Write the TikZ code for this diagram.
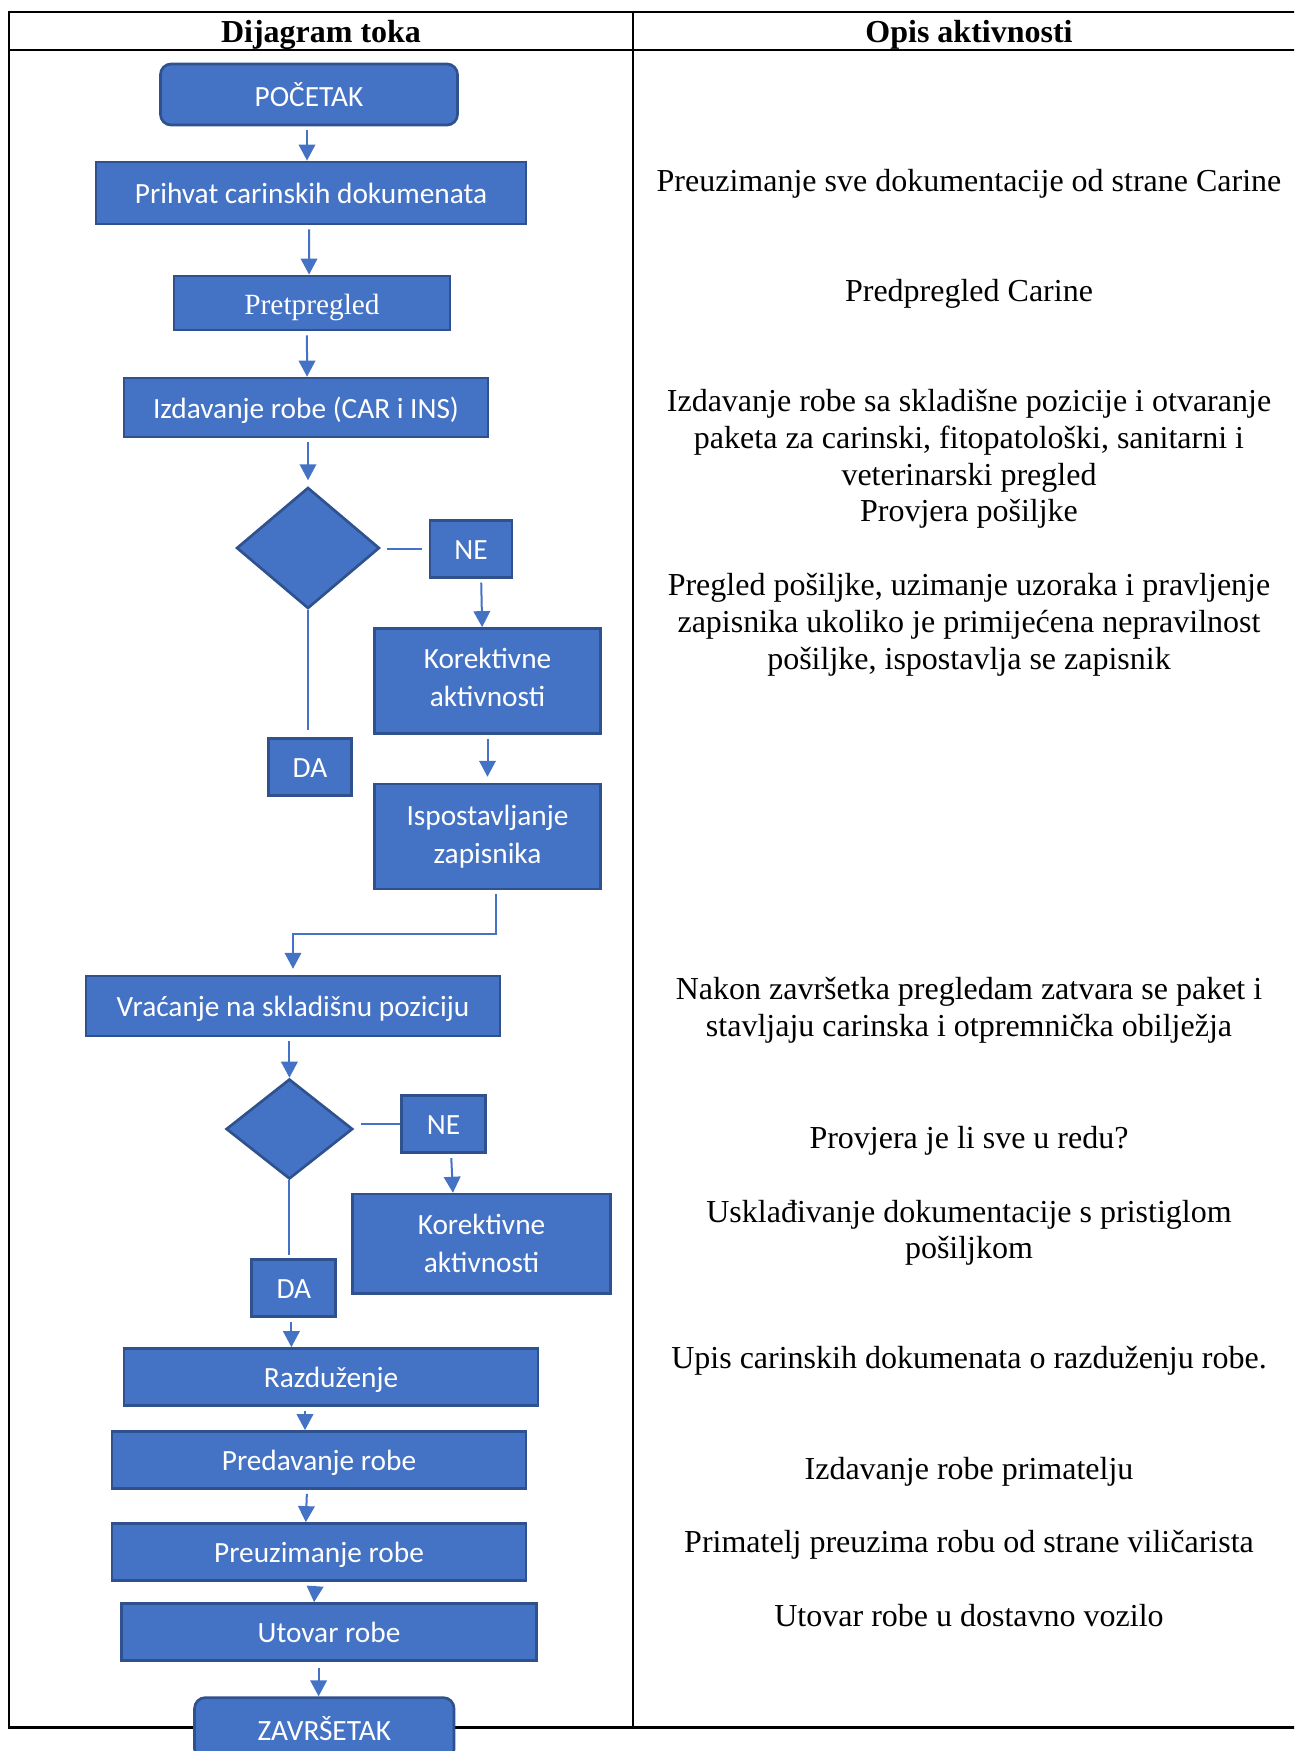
\documentclass[tikz,border=0pt]{standalone}
\usepackage{fontspec}
\setmainfont{Liberation Serif}
\newfontfamily\calfont{Carlito}
\usetikzlibrary{shapes.geometric}
\usetikzlibrary{positioning}
\usetikzlibrary{arrows.meta}
\definecolor{ofblue}{HTML}{4472C4}
\definecolor{ofdark}{HTML}{2F528F}
\tikzset{
    procbase/.style = {rectangle, draw=ofdark, line width=1pt, fill=ofblue, text=white, align=center, inner sep=0pt, font=\calfont\fontsize{11}{14.25}\selectfont},
    procbox/.style = {procbase, text height=10pt, text depth=2pt},
    procboxm/.style = {procbase},
    procboxs/.style = {procbase, font=\rmfamily\fontsize{11}{14.25}\selectfont, text height=11pt, text depth=2pt},
    termbox/.style = {procbase, rounded corners=4pt},
    decbox/.style = {diamond, draw=ofdark, line width=1pt, fill=ofblue, inner sep=0pt},
    edgea/.style = {-{Triangle[width=6.2pt,length=6pt]}, line width=0.75pt, draw=ofblue, shorten <=1.5pt},
    edgel/.style = {line width=0.75pt, draw=ofblue},
    tabline/.style = {line width=0.8pt, draw=black},
    opis/.style = {align=center, inner sep=0pt, font=\fontsize{12}{13.8}\selectfont},
    naslov/.style = {inner sep=0pt, font=\bfseries\fontsize{12}{13.8}\selectfont}
}

\begin{document}
\begin{tikzpicture}[x=0.375pt, y=-0.375pt]
\clip (0,0) rectangle (1294,1751);
% table
\draw[tabline] (9,12) rectangle (1310,1727.5);
\draw[tabline] (9,50) -- (1310,50);
\draw[tabline] (633,12) -- (633,1727.5);
\node[naslov] at (321, 34.5) (h1) {Dijagram toka};
\node[naslov] at (969, 34.5) (h2) {Opis aktivnosti};
%
\node[termbox, minimum width=111.4pt, minimum height=22.9pt] at (309, 94.5) (pocetak) {POČETAK};
\node[procbox, minimum width=161.3pt, minimum height=23.3pt] at (311, 193) (prihvat) {Prihvat carinskih dokumenata};
\node[procboxs, minimum width=103.5pt, minimum height=20.3pt] at (312, 303) (pret) {Pretpregled};
\node[procbox, minimum width=136.5pt, minimum height=22.1pt] at (306, 407.5) (izd) {Izdavanje robe (CAR i INS)};
\node[decbox, minimum width=53.6pt, minimum height=45.4pt] at (308, 548) (dia1) {};
\node[procbox, minimum width=30.8pt, minimum height=21.4pt] at (471, 548.7) (ne1) {NE};
\node[procboxm, text depth=2.5pt, minimum width=84.8pt, minimum height=39.4pt] at (487.5, 681) (kor1) {Korektivne\\aktivnosti};
\node[procboxm, minimum width=84.8pt, minimum height=39.4pt] at (487.5, 836.5) (isp) {Ispostavljanje\\zapisnika};
\node[procbox, minimum width=31.3pt, minimum height=21.4pt] at (310, 767) (da1) {DA};
\node[procbox, minimum width=155.3pt, minimum height=22.5pt] at (293, 1006) (vracanje) {Vraćanje na skladišnu poziciju};
\node[decbox, minimum width=47.5pt, minimum height=37.5pt] at (289.4, 1129) (dia2) {};
\node[procbox, minimum width=31.5pt, minimum height=21.4pt] at (443.6, 1124.2) (ne2) {NE};
\node[procboxm, minimum width=96.6pt, minimum height=37.2pt] at (481.5, 1243.7) (kor2) {Korektivne\\aktivnosti};
\node[procbox, minimum width=31.5pt, minimum height=21.4pt] at (293.8, 1288) (da2) {DA};
\node[procbox, minimum width=155.3pt, minimum height=21.4pt] at (331, 1377) (raz) {Razduženje};
\node[procbox, minimum width=155.3pt, minimum height=21.4pt] at (319, 1460) (pred) {Predavanje robe};
\node[procbox, minimum width=155.3pt, minimum height=21.4pt] at (319, 1552) (preuz) {Preuzimanje robe};
\node[procbox, minimum width=155.4pt, minimum height=21.4pt] at (329, 1632) (utovar) {Utovar robe};
\node[termbox, minimum width=97.3pt, minimum height=23.3pt] at (324.3, 1728.7) (zav) {ZAVRŠETAK};
%
\draw[edgea] ([xshift=-0.75pt]pocetak.south) -- ([xshift=-1.5pt]prihvat.north);
\draw[edgea] ([xshift=-0.75pt]prihvat.south) -- ([xshift=-1.1pt]pret.north);
\draw[edgea] ([xshift=-1.9pt]pret.south) -- ([xshift=0.4pt]izd.north);
\draw[edgea, shorten >=2.2pt] (izd.south -| dia1.north) -- (dia1.north);
\draw[edgel, shorten <=2.4pt, shorten >=2.6pt] (dia1.east |- ne1.west) -- (ne1.west);
\draw[edgea] ([xshift=3.8pt]ne1.south) -- ([xshift=-2pt]kor1.north);
\draw[edgea, shorten >=2.2pt] (kor1) -- (isp);
\draw[edgel, shorten >=2.8pt] (dia1.south) -- (dia1.south |- da1.north);
\draw[edgea, shorten >=2.2pt] ([xshift=3.2pt]isp.south) -- ++(0,43.7) -| (vracanje.north);
\draw[edgea] (vracanje.south -| dia2.north) -- (dia2.north);
\draw[edgel, shorten <=2.5pt] (dia2.east |- ne2.west) -- (ne2.west);
\draw[edgea] ([xshift=2.8pt]ne2.south) -- ([xshift=-10.7pt]kor2.north);
\draw[edgel, shorten >=1pt] (dia2.south) -- (dia2.south |- da2.north);
\draw[edgea] ([xshift=-0.9pt]da2.south) -- ([xshift=-0.9pt]da2.south |- raz.north);
\draw[edgea] ([xshift=-9.75pt]raz.south) -- ([xshift=-5.25pt]pred.north);
\draw[edgea] ([xshift=-4.5pt]pred.south) -- ([xshift=-4.95pt]preuz.north);
\draw[edgea] ([xshift=-1.35pt]preuz.south) -- ([xshift=-5.6pt]utovar.north);
\draw[edgea, shorten <=2.2pt] ([xshift=-3.9pt]utovar.south) -- ([xshift=-3.9pt]utovar.south |- zav.north);
%
\node[opis] at (969, 184.3) (o1) {Preuzimanje sve dokumentacije od strane Carine};
\node[opis] at (969, 294) (o2) {Predpregled Carine};
\node[opis] at (969, 459) (o3) {Izdavanje robe sa skladišne pozicije i otvaranje\\paketa za carinski, fitopatološki, sanitarni i\\veterinarski pregled\\Provjera pošiljke};
\node[opis] at (969, 625) (o4) {Pregled pošiljke, uzimanje uzoraka i pravljenje\\zapisnika ukoliko je primijećena nepravilnost\\pošiljke, ispostavlja se zapisnik};
\node[opis] at (969, 1010.5) (o5) {Nakon završetka pregledam zatvara se paket i\\stavljaju carinska i otpremnička obilježja};
\node[opis] at (969, 1140.5) (o6) {Provjera je li sve u redu?};
\node[opis] at (969, 1232.7) (o7) {Usklađivanje dokumentacije s pristiglom\\pošiljkom};
\node[opis] at (969, 1360.5) (o8) {Upis carinskih dokumenata o razduženju robe.};
\node[opis] at (969, 1472) (o9) {Izdavanje robe primatelju};
\node[opis] at (969, 1545) (o10) {Primatelj preuzima robu od strane viličarista};
\node[opis] at (969, 1615.3) (o11) {Utovar robe u dostavno vozilo};
\end{tikzpicture}
\end{document}
